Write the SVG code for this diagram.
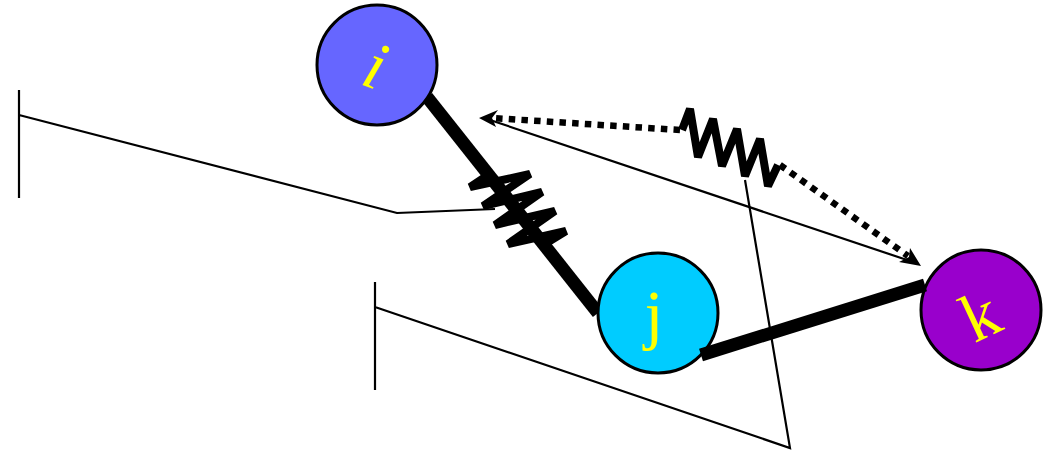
<svg xmlns="http://www.w3.org/2000/svg" width="1043" height="451" viewBox="0 0 1043 451">
<style>
.n{stroke:#000;stroke-width:3}
.t{font-family:"Liberation Serif","Times New Roman",serif;font-size:68px;fill:#ff0;text-anchor:middle}
.thin{fill:none;stroke:#000;stroke-width:2.2}
.thick{fill:none;stroke:#000;stroke-width:13}
.spring{fill:none;stroke:#000;stroke-width:8;stroke-linejoin:bevel}
.dot{fill:none;stroke:#000;stroke-width:6.5;stroke-dasharray:6.5 6.2}
.head{fill:#000;stroke:none}
</style>
<rect width="1043" height="451" fill="#fff"/>
<g id="connectors">
<path class="thin" d="M19 90V198M19 115L397 213L495 209"/>
<path class="thin" d="M375 282V390M375 307L790 448L745 180"/>
<path class="thin" d="M490 120L910 261"/>
<path class="thick" d="M427 97L598 313"/>
<path class="spring" d="M491 173L470 187L530 174L483 206L542 192L495 225L555 211L508 244L566 231L540 247"/>
<path class="spring" d="M682 130L690 109L698 157L713 119L722 166L737 129L745 176L760 139L768 186L778 165"/>
<path class="dot" d="M680 130L492 118"/>
<path class="dot" d="M780 165L908 256"/>
<path class="head" d="M479 118L498 110L492 118L496 127Z"/>
<path class="head" d="M921 266L899 262L909 257L910 248Z"/>
</g>
<g id="node-i"><circle class="n" cx="377" cy="65" r="60" fill="#66f"/><text class="t" font-style="italic" transform="translate(368 87) rotate(20)">i</text></g>
<g id="node-j"><circle class="n" cx="658" cy="313" r="60" fill="#0cf"/><text class="t" x="654" y="337">j</text></g>
<g id="node-k"><circle class="n" cx="981" cy="310" r="60" fill="#90c"/><text class="t" transform="translate(990 336) rotate(-25)">k</text></g>
<path class="thick" d="M701 355L925 285"/>
</svg>
